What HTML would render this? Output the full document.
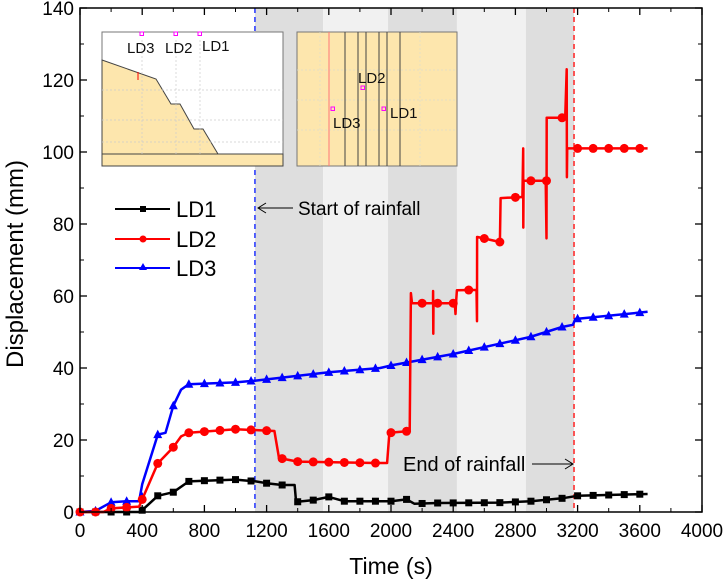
<!DOCTYPE html>
<html><head><meta charset="utf-8"><style>
html,body{margin:0;padding:0;background:#fff;}
svg{display:block;font-family:"Liberation Sans",Arial,sans-serif;}
</style></head><body>
<svg id="chart" width="726" height="585" viewBox="0 0 726 585">
<g id="bands"></g>
<g id="insets"></g>
<g id="series"></g>
<g id="axes"></g>
<g id="annot"></g>
</svg>
<script>
const bandStarts = [1125, 1563, 1981, 2424, 2868];
const bandEnds = [1563, 1981, 2424, 2868, 3177];
const rainStart = 1125;
const rainEnd = 3177;
const xTicks = [0,400,800,1200,1600,2000,2400,2800,3200,3600,4000];
const yTicks = [0,20,40,60,80,100,120,140];
const ld1T = [0,380,400,500,600,700,800,1000,1130,1200,1300,1380,1390,1500,1600,1700,2000,2100,2150,2300,2700,2900,3100,3200,3650];
const ld1V = [0,0,0.5,4.5,5.5,8.5,8.7,9,8.5,8,7.5,7.5,2.8,3.3,4.2,3,3,3.5,2.3,2.5,2.6,3,3.8,4.5,5];
const ld2T = [0,100,150,200,380,400,500,600,650,700,1000,1250,1280,1400,1900,1975,1990,2120,2128,2135,2270,2271,2272,2273,2410,2415,2418,2424,2550,2553,2554,2556,2700,2705,2845,2850,2851,2853,2855,2995,3000,3001,3003,3120,3130,3131,3133,3135,3650];
const ld2V = [0,0,0,1,1.5,3.5,13.5,18,21,22,23,22.5,15,14,13.6,13.6,22,22.5,60.8,58,58,61.4,49.5,58,58,55,58,61.6,61.7,53,76.4,76.4,75,87.2,87.5,101,79,92,92,92,76,109.5,109.5,109.5,123,93,101,101,101];
const ld3T = [0,100,200,300,380,400,500,550,600,650,700,1000,1130,1600,1930,2010,2400,2894,3100,3170,3185,3650];
const ld3V = [0,0.3,2.7,3,3,7.7,21.5,22,29.5,34,35.5,36,36.5,38.8,40,40.8,43.9,48.6,51.4,52,53.6,55.6];

const X0=80, X1=702, Y0=512, Y1=8;
const sx = t => X0 + t/4000*(X1-X0);
const sy = v => Y0 - v/140*(Y0-Y1);
const NS="http://www.w3.org/2000/svg";
function mk(tag, attrs, parent){const e=document.createElementNS(NS,tag);for(const k in attrs)e.setAttribute(k,attrs[k]);parent.appendChild(e);return e;}
const bands=document.getElementById('bands');
for(let i=0;i<bandStarts.length;i++){
  const r=mk('rect',{x:sx(bandStarts[i]),y:Y1,width:sx(bandEnds[i])-sx(bandStarts[i]),height:Y0-Y1,fill:i%2?'#f1f1f1':'#dedede'},bands);
  
  
}
const ins=document.getElementById('insets');
ins.innerHTML = `
<g>
<rect x="102" y="32" width="181" height="134" fill="#fff" stroke="#777" stroke-width="1"/>
<polygon points="102,60 156,79 171,104 180,104 194,129 203,129 218,154 283,154 283,166 102,166" fill="#fde6ad" stroke="#444" stroke-width="1"/>
<line x1="102" y1="154" x2="283" y2="154" stroke="#444"/>
<g stroke="#ccc" stroke-dasharray="2,2" stroke-width="0.7"><line x1="142" y1="40" x2="142" y2="154"/><line x1="176" y1="40" x2="176" y2="154"/><line x1="200" y1="40" x2="200" y2="154"/><line x1="102" y1="90" x2="283" y2="90"/><line x1="102" y1="120" x2="283" y2="120"/><line x1="102" y1="142" x2="283" y2="142"/></g>
<line x1="138" y1="72" x2="138" y2="80" stroke="red"/>
<g fill="none" stroke="#f0f"><rect x="140" y="32" width="3.5" height="3.5"/><rect x="174" y="32" width="3.5" height="3.5"/><rect x="198" y="32" width="3.5" height="3.5"/></g>
<g font-size="15" fill="#111"><text x="127" y="53">LD3</text><text x="165" y="53">LD2</text><text x="202" y="51">LD1</text></g>
</g>
<g>
<rect x="297" y="32" width="160" height="134" fill="#fde6ad" stroke="#777"/>
<g stroke="#ddc" stroke-dasharray="2,2" stroke-width="0.7"><line x1="297" y1="70" x2="457" y2="70"/><line x1="297" y1="100" x2="457" y2="100"/><line x1="297" y1="130" x2="457" y2="130"/><line x1="320" y1="32" x2="320" y2="166"/><line x1="420" y1="32" x2="420" y2="166"/></g>
<line x1="329" y1="32" x2="329" y2="166" stroke="#f77"/>
<g stroke="#444"><line x1="345" y1="32" x2="345" y2="166"/><line x1="358" y1="32" x2="358" y2="166"/><line x1="366" y1="32" x2="366" y2="166"/><line x1="379" y1="32" x2="379" y2="166"/><line x1="387" y1="32" x2="387" y2="166"/><line x1="400" y1="32" x2="400" y2="166"/></g>
<g fill="none" stroke="#f0f"><rect x="331" y="107" width="3.5" height="3.5"/><rect x="361" y="86" width="3.5" height="3.5"/><rect x="382" y="107" width="3.5" height="3.5"/></g>
<g font-size="15" fill="#111"><text x="358" y="83">LD2</text><text x="333" y="128">LD3</text><text x="390" y="118">LD1</text></g>
</g>`;
const an=document.getElementById('annot');
let l=mk('line',{x1:sx(rainStart),y1:Y1,x2:sx(rainStart),y2:Y0,stroke:'#2233ff','stroke-width':1.5,'stroke-dasharray':'5,4'},bands);


l=mk('line',{x1:sx(rainEnd),y1:Y1,x2:sx(rainEnd),y2:Y0,stroke:'#ff2222','stroke-width':1.5,'stroke-dasharray':'5,4'},bands);



function interp(T,V,t){for(let i=1;i<T.length;i++){if(t<=T[i]){const f=(t-T[i-1])/((T[i]-T[i-1])||1);return V[i-1]+f*(V[i]-V[i-1]);}}return V[V.length-1];}
const ser=document.getElementById('series');
function drawSeries(T,V,color,shape,name){
  const g=mk('g',{},ser);
  
  
  const d=T.map((t,i)=>(i?'L':'M')+sx(t).toFixed(1)+','+sy(V[i]).toFixed(1)).join(' ');
  mk('path',{d:d,fill:'none',stroke:color,'stroke-width':2.5,'stroke-linejoin':'round'},g);
  for(let t=0;t<=T[T.length-1];t+=100){
    let v=interp(T,V,t);
    const a=interp(T,V,t-15), b=interp(T,V,t+15);
    if(Math.abs(v-a)>2 && Math.abs(v-b)>2) v=a;
    const x=sx(t),y=sy(v);
    let m;
    if(shape==='sq') m=mk('rect',{x:x-3.5,y:y-3.5,width:7,height:7,fill:color},g);
    else if(shape==='ci') m=mk('circle',{cx:x,cy:y,r:4.5,fill:color},g);
    else m=mk('polygon',{points:`${x},${y-5} ${x-4.5},${y+3.5} ${x+4.5},${y+3.5}`,fill:color},g);
    
    
  }
}
drawSeries(ld1T,ld1V,'#000','sq','ld1');
drawSeries(ld3T,ld3V,'#0000ff','tr','ld3');
drawSeries(ld2T,ld2V,'#ff0000','ci','ld2');

const ax=document.getElementById('axes');
let r=mk('rect',{x:X0,y:Y1,width:X1-X0,height:Y0-Y1,fill:'none',stroke:'#000','stroke-width':1.5},ax);


xTicks.forEach(t=>{
  const x=sx(t);
  mk('line',{x1:x,y1:Y0,x2:x,y2:Y0-7,stroke:'#000','stroke-width':1.3},ax);
  mk('line',{x1:x,y1:Y1,x2:x,y2:Y1+7,stroke:'#000','stroke-width':1.3},ax);
  const xm=sx(t+200); if(t<4000){mk('line',{x1:xm,y1:Y0,x2:xm,y2:Y0-4,stroke:'#000'},ax);mk('line',{x1:xm,y1:Y1,x2:xm,y2:Y1+4,stroke:'#000'},ax);}
  const tx=mk('text',{x:x,y:Y0+25,'font-size':19,'text-anchor':'middle',fill:'#000'},ax);
  tx.textContent=t;
  
  
});
yTicks.forEach(v=>{
  const y=sy(v);
  mk('line',{x1:X0,y1:y,x2:X0+7,y2:y,stroke:'#000','stroke-width':1.3},ax);
  mk('line',{x1:X1,y1:y,x2:X1-7,y2:y,stroke:'#000','stroke-width':1.3},ax);
  const ym=sy(v+10); if(v<140){mk('line',{x1:X0,y1:ym,x2:X0+4,y2:ym,stroke:'#000'},ax);mk('line',{x1:X1,y1:ym,x2:X1-4,y2:ym,stroke:'#000'},ax);}
  const tx=mk('text',{x:X0-6,y:y+7,'font-size':19,'text-anchor':'end',fill:'#000'},ax);
  tx.textContent=v;
  
  
});
an.innerHTML=`
<text x="391" y="574" font-size="23" text-anchor="middle">Time (s)</text>
<text transform="translate(23,264) rotate(-90)" font-size="24" text-anchor="middle">Displacement (mm)</text>
<g><line x1="258" y1="208" x2="293" y2="208" stroke="#000"/><polyline points="266,203 258,208 266,213" fill="none" stroke="#000"/><text x="298" y="215" font-size="19">Start of rainfall</text></g>
<g><text x="403" y="471" font-size="20">End of rainfall</text><line x1="532" y1="464" x2="573" y2="464" stroke="#000"/><polyline points="565,459 573,464 565,469" fill="none" stroke="#000"/></g>
<g>
<g><line x1="115" y1="209" x2="170" y2="209" stroke="#000" stroke-width="2"/><rect x="140" y="206" width="6" height="6" fill="#000"/><text x="176" y="217" font-size="22">LD1</text></g>
<g><line x1="115" y1="239" x2="170" y2="239" stroke="#f00" stroke-width="2"/><circle cx="143" cy="239" r="3.5" fill="#f00"/><text x="176" y="247" font-size="22">LD2</text></g>
<g><line x1="115" y1="268" x2="170" y2="268" stroke="#00f" stroke-width="2"/><polygon points="143,263 139,270 147,270" fill="#00f"/><text x="176" y="276" font-size="22">LD3</text></g>
</g>`;
</script>
</body></html>
